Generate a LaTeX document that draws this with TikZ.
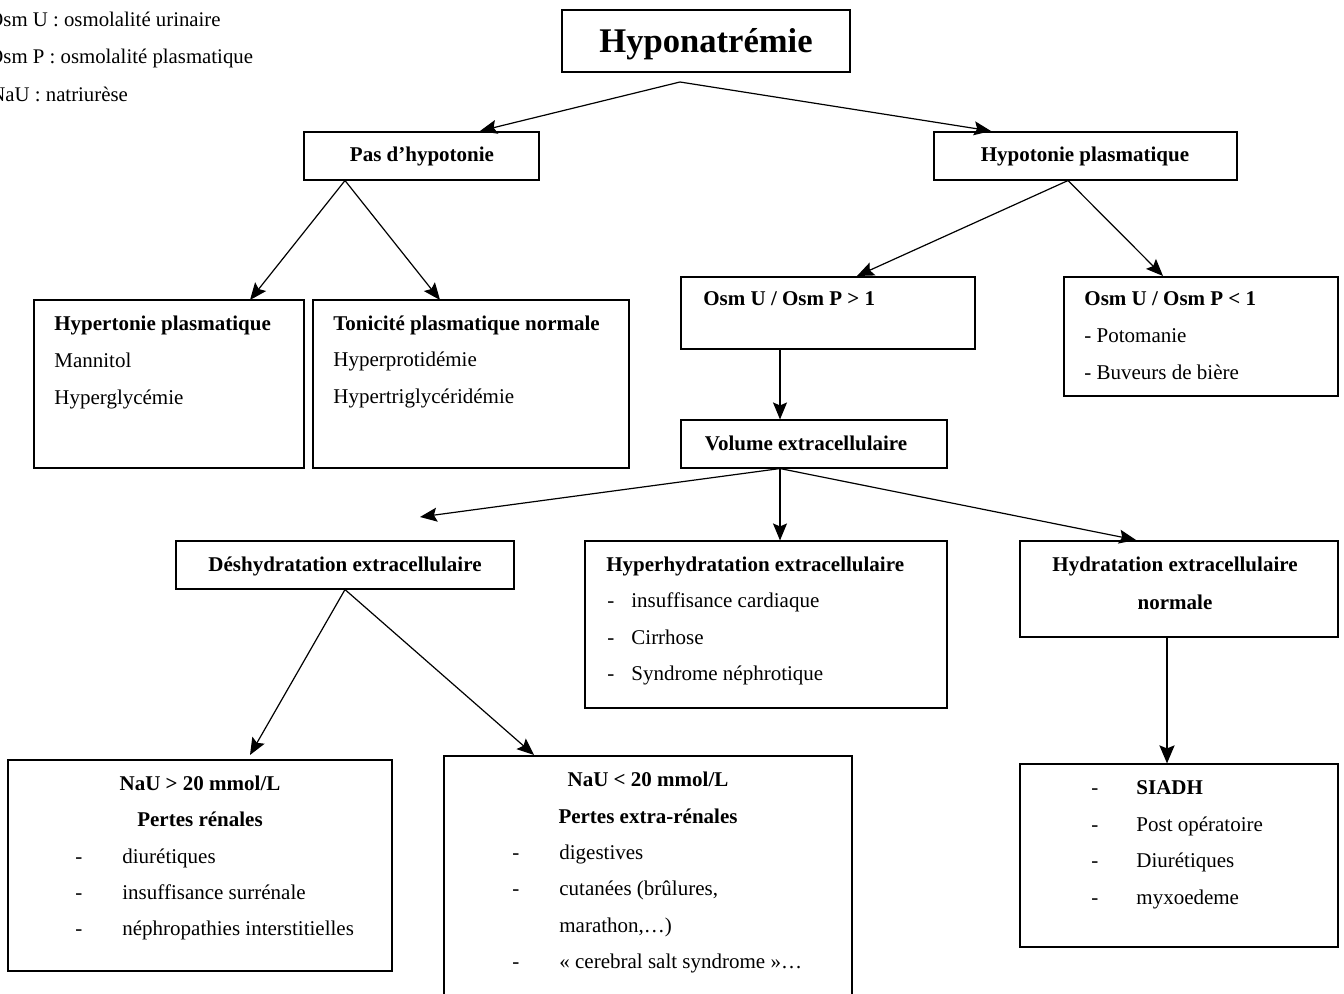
\documentclass[tikz,border=0pt]{standalone}
\usepackage{fontspec}
\setmainfont{Liberation Serif}
\usetikzlibrary{arrows.meta}
\newcommand{\bodyfont}{\fontsize{10.5}{18.5}\selectfont}
\newcommand{\legfont}{\fontsize{10.4}{18}\selectfont}
\newcommand{\titfont}{\fontsize{17.3}{20}\selectfont\bfseries}
\tikzset{
  box/.style={draw, line width=0.55pt, inner sep=0pt, rectangle},
  txt/.style={inner sep=0pt, anchor=base west, font=\bodyfont},
  ctxt/.style={inner sep=0pt, anchor=base, font=\bodyfont},
  btxt/.style={txt, font=\bodyfont\bfseries},
  bctxt/.style={ctxt, font=\bodyfont\bfseries},
  leg/.style={inner sep=0pt, anchor=base west, font=\legfont},
  arr/.style={line width=0.6pt, -{Stealth[length=8.5pt,width=7pt,inset=1.5pt]}},
  thickarr/.style={line width=1.1pt, -{Stealth[length=9pt,width=7.5pt,inset=1.5pt]}},
}
\begin{document}
\begin{tikzpicture}[x=0.5pt,y=-0.5pt]
\useasboundingbox (0,0) rectangle (1344,994);
\clip (0,0) rectangle (1344,994);
% legend
\node[leg] (l1) at (-12,27) {Osm U : osmolalité urinaire};
\node[leg] (l2) at (-12,64) {Osm P : osmolalité plasmatique};
\node[leg] (l3) at (-10,102) {NaU : natriurèse};
% boxes
\node[box, minimum width=144pt, minimum height=31pt] (title) at (706,41) {};
\node[inner sep=0pt, anchor=base, font=\titfont] (titletxt) at (706,53) {Hyponatrémie};
\node[box, minimum width=117.5pt, minimum height=24pt] (pas) at (421.5,156) {};
\node[bctxt] (pastxt) at (422,162) {Pas d’hypotonie};
\node[box, minimum width=151.5pt, minimum height=24pt] (hypo) at (1085.5,156) {};
\node[bctxt] (hypotxt) at (1085,162) {Hypotonie plasmatique};
\node[box, minimum width=135pt, minimum height=84pt] (hyper) at (169,384) {};
\node[btxt] (hyper1) at (54,331) {Hypertonie plasmatique};
\node[txt] (hyper2) at (54,368) {Mannitol};
\node[txt] (hyper3) at (54,405) {Hyperglycémie};
\node[box, minimum width=158pt, minimum height=84pt] (toni) at (471,384) {};
\node[btxt] (toni1) at (333,331) {Tonicité plasmatique normale};
\node[txt] (toni2) at (333,367) {Hyperprotidémie};
\node[txt] (toni3) at (333,404) {Hypertriglycéridémie};
\node[box, minimum width=147pt, minimum height=36pt] (osmg) at (828,313) {};
\node[btxt] (osmg1) at (703,306) {Osm U / Osm P > 1};
\node[box, minimum width=137pt, minimum height=59.5pt] (osml) at (1201,336.5) {};
\node[btxt] (osml1) at (1084,306) {Osm U / Osm P < 1};
\node[txt] (osml2) at (1084,343) {- Potomanie};
\node[txt] (osml3) at (1084,380) {- Buveurs de bière};
\node[box, minimum width=133pt, minimum height=24pt] (vol) at (814,444) {};
\node[bctxt] (voltxt) at (806,451) {Volume extracellulaire};
\node[box, minimum width=169pt, minimum height=24pt] (desh) at (345,565) {};
\node[bctxt] (deshtxt) at (345,571) {Déshydratation extracellulaire};
\node[box, minimum width=181pt, minimum height=83.5pt] (hyperh) at (766,624.5) {};
\node[btxt] (hh0) at (606,571) {Hyperhydratation extracellulaire};
\node[txt] (hhd1) at (607,607) {-};
\node[txt] (hh1) at (631,607) {insuffisance cardiaque};
\node[txt] (hhd2) at (607,644) {-};
\node[txt] (hh2) at (631,644) {Cirrhose};
\node[txt] (hhd3) at (607,680) {-};
\node[txt] (hh3) at (631,680) {Syndrome néphrotique};
\node[box, minimum width=159pt, minimum height=48pt] (hydr) at (1179,589) {};
\node[bctxt] (hydr1) at (1175,571) {Hydratation extracellulaire};
\node[bctxt] (hydr2) at (1175,609) {normale};
\node[box, minimum width=192pt, minimum height=105.5pt] (nag) at (200,865.5) {};
\node[bctxt] (nag1) at (200,790) {NaU > 20 mmol/L};
\node[bctxt] (nag2) at (200,826) {Pertes rénales};
\node[txt] (nagd1) at (75,863) {-};
\node[txt] (nag3) at (122,863) {diurétiques};
\node[txt] (nagd2) at (75,899) {-};
\node[txt] (nag4) at (122,899) {insuffisance surrénale};
\node[txt] (nagd3) at (75,935) {-};
\node[txt] (nag5) at (122,935) {néphropathies interstitielles};
\node[box, minimum width=204pt, minimum height=125pt] (nal) at (648,881) {};
\node[bctxt] (nal1) at (648,786) {NaU < 20 mmol/L};
\node[bctxt] (nal2) at (648,823) {Pertes extra-rénales};
\node[txt] (nald1) at (512,859) {-};
\node[txt] (nal3) at (559,859) {digestives};
\node[txt] (nald2) at (512,895) {-};
\node[txt] (nal4) at (559,895) {cutanées (brûlures,};
\node[txt] (nal5) at (559,932) {marathon,…)};
\node[txt] (nald3) at (512,968) {-};
\node[txt] (nal6) at (559,968) {« cerebral salt syndrome »…};
\node[box, minimum width=159pt, minimum height=91.5pt] (siadh) at (1179,855.5) {};
\node[txt] (sd1) at (1091,794) {-};
\node[btxt] (s1) at (1136,794) {SIADH};
\node[txt] (sd2) at (1091,831) {-};
\node[txt] (s2) at (1136,831) {Post opératoire};
\node[txt] (sd3) at (1091,867) {-};
\node[txt] (s3) at (1136,867) {Diurétiques};
\node[txt] (sd4) at (1091,904) {-};
\node[txt] (s4) at (1136,904) {myxoedeme};
% connector coordinates
\coordinate (tsplit) at (680,82);
\coordinate (vleft) at (420,517);
% connectors
\draw[arr] (tsplit) -- (480,131);
\draw[arr] (tsplit) -- (991,131);
\draw[arr] (pas.south -| 345,0) -- (250,300);
\draw[arr] (pas.south -| 345,0) -- (440,300);
\draw[arr] (hypo.south -| 1068,0) -- (857,276);
\draw[arr] (hypo.south -| 1068,0) -- (1163,276);
\draw[arr] (osmg.south -| 780,0) -- (vol.north -| 780,0);
\draw[arr] (vol.south -| 780,0) -- (vleft);
\draw[arr] (vol.south -| 780,0) -- (hyperh.north -| 780,0);
\draw[arr] (vol.south -| 780,0) -- (1136,540);
\draw[arr] (desh.south -| 345,0) -- (250,755);
\draw[arr] (desh.south -| 345,0) -- (534,755);
\draw[thickarr] (hydr.south -| 1167,0) -- (siadh.north -| 1167,0);
\end{tikzpicture}
\end{document}
